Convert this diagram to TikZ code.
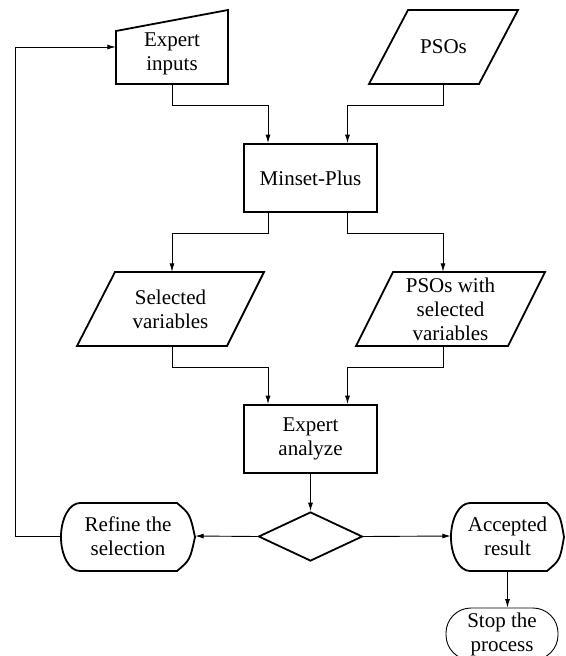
\documentclass[tikz,border=0pt]{standalone}
\usepackage{fontspec}
\setmainfont{Liberation Serif}
\usetikzlibrary{shapes.geometric,arrows.meta,calc}
\tikzset{>={Latex[length=8.5pt,width=5pt]}}
\tikzset{
  txt/.style={align=center,inner sep=0pt,font=\fontsize{21}{24}\selectfont},
  box/.style={txt,draw,line width=1.8pt},
  outline/.style={line width=1.8pt,line join=miter},
  flow/.style={line width=0.9pt,->},
}

\begin{document}
\begin{tikzpicture}[x=1pt,y=-1pt]
    \useasboundingbox (0,0) rectangle (565,656);

    % shapes drawn by hand
    \draw [outline] (116,31) -- (228,10) -- (228,84) -- (116,84) -- cycle;
    \draw [outline] (408,10) -- (518,10) -- (479,84) -- (369,84) -- cycle;
    \draw [outline] (115,272) -- (264,272) -- (227,346) -- (77,346) -- cycle;
    \draw [outline] (393,272) -- (545,272) -- (508,346) -- (356,346) -- cycle;
    \draw [outline] (80,503) -- (177,503) .. controls (190,514) .. (195,537)
        .. controls (190,560) .. (177,571) -- (80,571)
        .. controls (69.5,571) and (61,555.8) .. (61,537)
        .. controls (61,518.2) and (69.5,503) .. (80,503) -- cycle;
    \draw [outline] (470,503) -- (547,503) .. controls (560,514) .. (564,537)
        .. controls (560,560) .. (547,571) -- (470,571)
        .. controls (459.5,571) and (451,555.8) .. (451,537)
        .. controls (451,518.2) and (459.5,503) .. (470,503) -- cycle;

    % nodes
    \node [txt,minimum width=112,minimum height=60] (inputs) at (172,54) {Expert\\inputs};
    \node [txt,minimum width=149,minimum height=74] (psos) at (443.5,47) {PSOs};
    \node [box,minimum width=133,minimum height=68] (minset) at (310.5,178) {Minset-Plus};
    \node [txt,minimum width=187,minimum height=74] (selvar) at (170.5,309) {Selected\\variables};
    \node [txt,minimum width=189,minimum height=74] (psosvar) at (450.5,309) {PSOs with\\selected\\variables};
    \node [box,minimum width=133,minimum height=68] (analyze) at (310.5,439) {Expert\\analyze};
    \node [draw,diamond,line width=1.8pt,inner sep=0pt,minimum width=104,minimum height=49] (check) at (310.5,536.5) {};
    \node [txt,minimum width=134,minimum height=68] (refine) at (128,536) {Refine the\\selection};
    \node [txt,minimum width=113,minimum height=68] (accepted) at (507.5,536) {Accepted\\result};
    \node [txt,draw,line width=0.9pt,rounded corners=25pt,minimum width=112,minimum height=52] (stop) at (502,634) {Stop the\\process};

    % connectors
    \draw [flow] (inputs.south) -- ++(0,21) -| ($(minset.north)+(-42.5,0)$);
    \draw [flow] (psos.south) -- ++(0,21) -| ($(minset.north)+(37,0)$);
    \draw [flow] ($(minset.south)+(-42.5,0)$) -- ++(0,21) -| ($(selvar.north)+(1.5,0)$);
    \draw [flow] ($(minset.south)+(37,0)$) -- ++(0,21) -| ($(psosvar.north)+(-7.5,0)$);
    \draw [flow] ($(selvar.south)+(1.5,0)$) -- ++(0,21) -| ($(analyze.north)+(-42.5,0)$);
    \draw [flow] ($(psosvar.south)+(-7.5,0)$) -- ++(0,21) -| ($(analyze.north)+(37,0)$);
    \draw [flow] (analyze.south) -- (check.north);
    \draw [flow] (check.west) -- (refine.east);
    \draw [flow] (check.east) -- (accepted.west);
    \draw [flow] (accepted.south) -- (accepted.south |- stop.north);
    \draw [flow] (refine.west) -- ++(-45,0) |- ($(inputs.west)+(0,-7)$);
\end{tikzpicture}
\end{document}
